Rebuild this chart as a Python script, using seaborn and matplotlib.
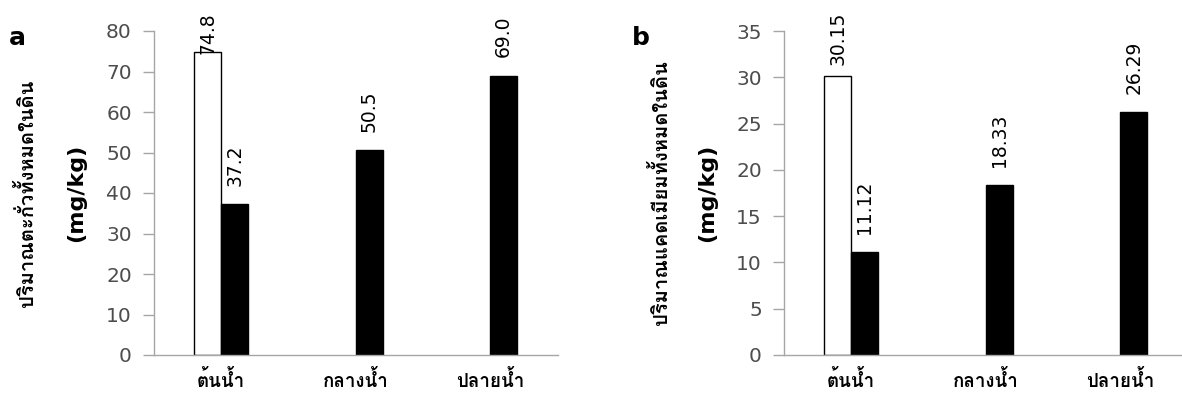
import numpy as np
import pandas as pd
import matplotlib
matplotlib.use("Agg")
import matplotlib.pyplot as plt
import seaborn as sns
from matplotlib import font_manager

# ---------------- data ----------------
sites = ["ต้นน้ำ", "กลางน้ำ", "ปลายน้ำ"]
series_names = ["series1", "series2"]
lead_series1 = [74.8, np.nan, np.nan]
lead_series2 = [37.2, 50.5, 69.0]
lead_labels1 = ["74.8", "", ""]
lead_labels2 = ["37.2", "50.5", "69.0"]
cd_series1 = [30.15, np.nan, np.nan]
cd_series2 = [11.12, 18.33, 26.29]
cd_labels1 = ["30.15", "", ""]
cd_labels2 = ["11.12", "18.33", "26.29"]
ylabel_a = "ปริมาณตะกั่วทั้งหมดในดิน"
ylabel_b = "ปริมาณแคดเมียมทั้งหมดในดิน"
unit = "(mg/kg)"
yticks_a = [0, 10, 20, 30, 40, 50, 60, 70, 80]
yticks_b = [0, 5, 10, 15, 20, 25, 30, 35]


def find_thai_font():
    try:
        from fontTools.ttLib import TTFont
    except Exception:
        return None
    for f in font_manager.fontManager.ttflist:
        try:
            tt = TTFont(f.fname, fontNumber=0, lazy=True)
            cmap = tt.getBestCmap()
            if cmap and 0x0E15 in cmap and 0x0E49 in cmap and 0x0E01 in cmap:
                return f.name
        except Exception:
            continue
    return None


sns.set_theme(style="white")
thai = find_thai_font()
fam = ([thai] if thai else []) + ["DejaVu Sans"]
plt.rcParams["font.family"] = fam

W, H = 1182, 396
fig = plt.figure(figsize=(W / 100, H / 100), dpi=100)

top_px, bot_px = 31, 355


def make_df(s1, s2):
    rows = []
    for i, site in enumerate(sites):
        rows.append((site, series_names[0], s1[i]))
        rows.append((site, series_names[1], s2[i]))
    return pd.DataFrame(rows, columns=["site", "series", "value"])


def panel(left_px, right_px, xmax, s1, s2, l1, l2, yticks, letter, letter_x,
          ylab, ylab_x, unit_x):
    ax = fig.add_axes([left_px / W, (H - bot_px) / H, (right_px - left_px) / W,
                       (bot_px - top_px) / H])
    df = make_df(s1, s2)
    sns.barplot(data=df, x="site", y="value", hue="series", order=sites,
                hue_order=series_names, palette=["white", "black"],
                edgecolor="black", linewidth=1.0, width=0.4, gap=0,
                errorbar=None, legend=False, ax=ax)
    ax.set_xlim(-0.5, xmax)
    ax.set_ylim(yticks[0], yticks[-1])
    ax.set_yticks(yticks)
    ax.set_xlabel("")
    ax.set_ylabel("")
    for s in ["top", "right"]:
        ax.spines[s].set_visible(False)
    for s in ["left", "bottom"]:
        ax.spines[s].set_color("#a6a6a6")
        ax.spines[s].set_linewidth(1.0)
    ax.tick_params(axis="y", length=8, width=1, color="#a6a6a6", pad=8,
                   labelsize=14.5, labelcolor="#4d4d4d", left=True)
    ax.tick_params(axis="x", length=0, pad=11, labelsize=13.5, labelcolor="black")
    for t in ax.get_yticklabels():
        t.set_fontfamily("DejaVu Sans")
    for t in ax.get_xticklabels():
        t.set_fontweight("bold")
    # value labels
    texts = []
    offsets = [-0.1, 0.1]
    for k, (vals, labs) in enumerate([(s1, l1), (s2, l2)]):
        for i, (v, lab) in enumerate(zip(vals, labs)):
            if lab == "" or np.isnan(v):
                continue
            t = ax.annotate(lab, xy=(i + offsets[k], v), xytext=(0, 13),
                            textcoords="offset points", rotation=90,
                            ha="center", va="bottom", fontsize=13.5,
                            family="DejaVu Sans", color="black",
                            annotation_clip=False)
            texts.append(t)
    fig.text(letter_x / W, 1 - 38 / H, letter, fontsize=18, fontweight="bold",
             family="DejaVu Sans", color="black", ha="left", va="center")
    fig.text(ylab_x / W, 1 - 193 / H, ylab, rotation=90, fontsize=14.5,
             fontweight="bold", color="black", ha="center", va="center")
    fig.text(unit_x / W, 1 - 193 / H, unit, rotation=90, fontsize=16,
             fontweight="bold", family="DejaVu Sans", color="black",
             ha="center", va="center")
    return ax, texts


axa, ta = panel(154, 557.5, 2.5, lead_series1, lead_series2, lead_labels1,
                lead_labels2, yticks_a, "a", 9, ylabel_a, 27, 76)
axb, tb = panel(784, 1182, -0.5 + (1182 - 784) / 134.5, cd_series1, cd_series2,
                cd_labels1, cd_labels2, yticks_b, "b", 632, ylabel_b, 660, 707)

# keep labels inside the figure top (Excel pushes them down)
fig.canvas.draw()
r = fig.canvas.get_renderer()
for t in ta + tb:
    bb = t.get_window_extent(r)
    limit = H - 12
    if bb.y1 > limit:
        shift = (bb.y1 - limit) * 72 / 100
        x0, y0 = t.xyann
        t.xyann = (x0, y0 - shift)

fig.savefig("out.png", dpi=100)
